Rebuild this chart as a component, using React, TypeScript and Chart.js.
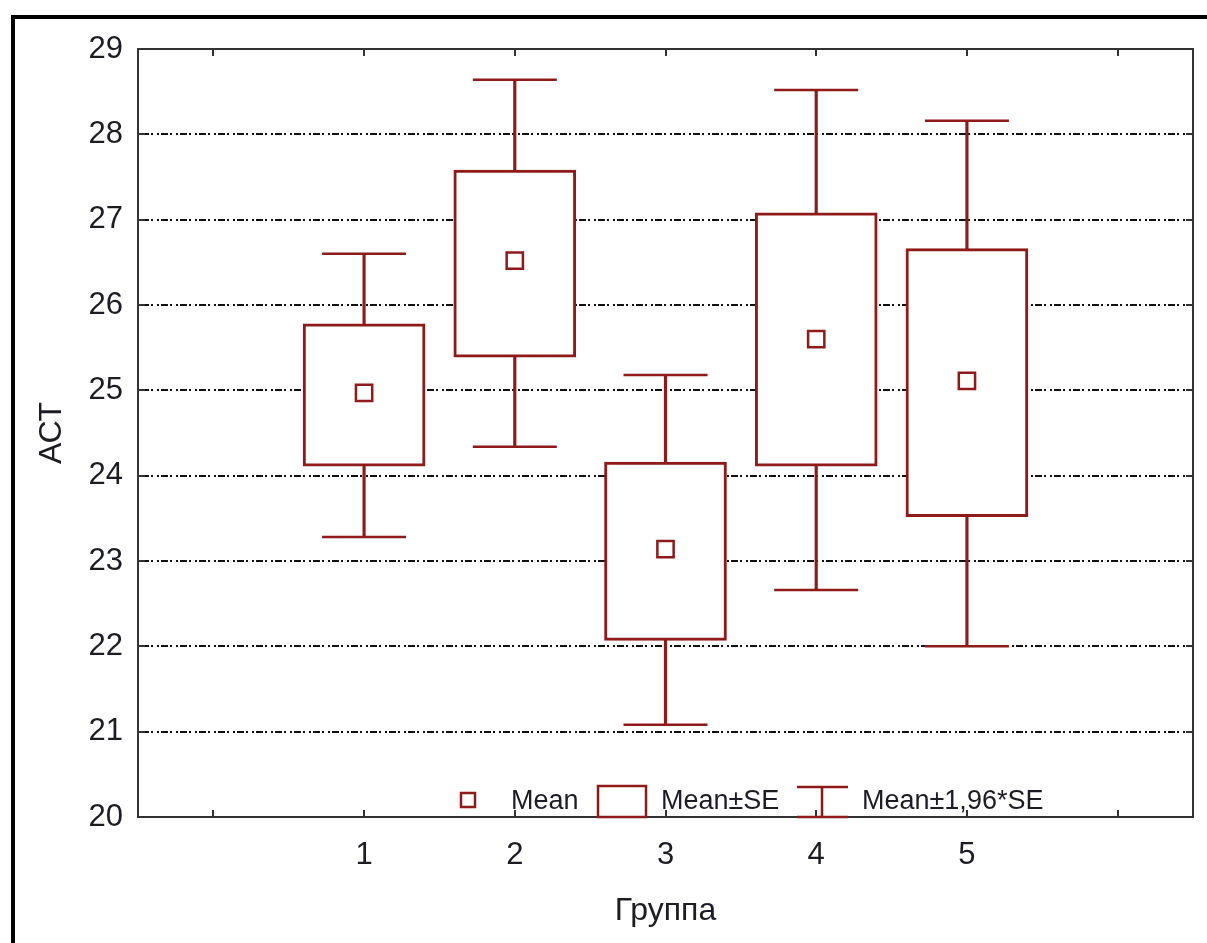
import React, { useEffect, useRef } from "react";
import { Chart, registerables } from "chart.js";

Chart.register(...registerables);

// Group numbers on the x axis
const groups = [1, 2, 3, 4, 5];
// Mean АСТ per group
const means = [24.97, 26.52, 23.14, 25.6, 25.11];
// Mean ± SE
const seLow = [24.11, 25.39, 22.07, 24.11, 23.52];
const seHigh = [25.78, 27.58, 24.16, 27.08, 26.66];
// Mean ± 1,96*SE
const ciLow = [23.28, 24.34, 21.08, 22.66, 22.0];
const ciHigh = [26.6, 28.64, 25.18, 28.52, 28.16];

const yTicks = [20, 21, 22, 23, 24, 25, 26, 27, 28, 29];
const xTicks = [0, 1, 2, 3, 4, 5, 6];

const RED = "#8e1a1a";
const INK = "#1c1c24";
const FONT = "'Liberation Sans', Arial, sans-serif";

const framePlugin = {
  id: "statFrame",
  beforeDraw(chart: any) {
    const ctx = chart.ctx;
    ctx.save();
    ctx.fillStyle = "#ffffff";
    ctx.fillRect(0, 0, chart.width, chart.height);
    // outer window frame
    ctx.fillStyle = "#000000";
    ctx.fillRect(11, 15, 4, chart.height);
    ctx.fillRect(11, 15, chart.width, 4);
    ctx.restore();
  },
  afterDraw(chart: any) {
    const ctx = chart.ctx;
    const { left, right, top, bottom } = chart.chartArea;
    const xs = chart.scales.x;
    const ys = chart.scales.y;
    ctx.save();
    ctx.strokeStyle = "#333333";
    ctx.lineWidth = 2;
    ctx.strokeRect(left, top, right - left, bottom - top);
    ctx.beginPath();
    const tl = 7;
    yTicks.forEach((v) => {
      const py = Math.round(ys.getPixelForValue(v));
      ctx.moveTo(left, py);
      ctx.lineTo(left + tl, py);
      ctx.moveTo(right, py);
      ctx.lineTo(right - tl, py);
    });
    xTicks.forEach((v) => {
      const px = Math.round(xs.getPixelForValue(v));
      ctx.moveTo(px, top);
      ctx.lineTo(px, top + tl);
      ctx.moveTo(px, bottom);
      ctx.lineTo(px, bottom - tl);
    });
    ctx.stroke();

    // legend inside the plot, along the bottom edge
    const base = bottom - 8;
    ctx.font = `27px ${FONT}`;
    ctx.fillStyle = INK;
    ctx.textBaseline = "alphabetic";
    ctx.textAlign = "left";
    ctx.strokeStyle = RED;
    ctx.lineWidth = 2.5;
    // Mean marker
    ctx.fillStyle = "#ffffff";
    ctx.fillRect(461, bottom - 24, 14, 14);
    ctx.strokeRect(461, bottom - 24, 14, 14);
    ctx.fillStyle = INK;
    ctx.fillText("Mean", 511, base);
    // Mean±SE box
    ctx.strokeRect(598, bottom - 31, 48, 31);
    ctx.fillText("Mean±SE", 661, base);
    // Mean±1,96*SE whisker
    ctx.beginPath();
    ctx.moveTo(797, bottom - 30);
    ctx.lineTo(848, bottom - 30);
    ctx.moveTo(822, bottom - 30);
    ctx.lineTo(822, bottom);
    ctx.moveTo(797, bottom);
    ctx.lineTo(848, bottom);
    ctx.stroke();
    ctx.fillText("Mean±1,96*SE", 862, base);
    ctx.restore();
  },
};

export default function App() {
  const canvasRef = useRef<HTMLCanvasElement | null>(null);

  useEffect(() => {
    const canvas = canvasRef.current;
    if (!canvas) return;
    const chart = new Chart(canvas, {
      type: "bar",
      data: {
        datasets: [
          {
            type: "scatter",
            label: "Mean",
            data: groups.map((g, i) => ({ x: g, y: means[i] })),
            pointStyle: "rect",
            pointRadius: 11.5,
            pointBorderWidth: 2.5,
            pointBorderColor: RED,
            pointBackgroundColor: "#ffffff",
            order: 0,
          } as any,
          {
            type: "bar",
            label: "Mean±SE",
            data: groups.map((g, i) => ({ x: g, y: [seLow[i], seHigh[i]] })),
            backgroundColor: "#ffffff",
            borderColor: RED,
            borderWidth: 3,
            borderSkipped: false,
            barThickness: 122,
            grouped: false,
            order: 1,
          } as any,
          {
            type: "scatter",
            label: "caps",
            data: groups.flatMap((g, i) => [
              { x: g, y: ciLow[i] },
              { x: g, y: ciHigh[i] },
            ]),
            pointStyle: "line",
            pointRadius: 42,
            pointBorderWidth: 2.5,
            pointBorderColor: RED,
            order: 2,
          } as any,
          {
            type: "bar",
            label: "Mean±1,96*SE",
            data: groups.map((g, i) => ({ x: g, y: [ciLow[i], ciHigh[i]] })),
            backgroundColor: RED,
            borderWidth: 0,
            barThickness: 2.5,
            grouped: false,
            order: 3,
          } as any,
        ],
      },
      options: {
        animation: false,
        responsive: false,
        events: [],
        layout: { autoPadding: false, padding: { top: 49, right: 14, left: 0, bottom: 0 } },
        plugins: { legend: { display: false }, tooltip: { enabled: false } },
        scales: {
          x: {
            type: "linear",
            offset: false,
            min: -0.5,
            max: 6.5,
            afterBuildTicks: (s: any) => {
              s.ticks = xTicks.map((v) => ({ value: v }));
            },
            afterFit: (s: any) => {
              s.height = 126;
            },
            grid: { display: false, offset: false },
            border: { display: false },
            ticks: {
              autoSkip: false,
              maxRotation: 0,
              padding: 12,
              color: INK,
              font: { family: FONT, size: 31 },
              callback: (v: any) => (v >= 1 && v <= 5 ? String(v) : ""),
            },
            title: {
              display: true,
              text: "Группа",
              color: INK,
              font: { family: FONT, size: 32 },
              padding: { top: 0, bottom: 13 },
            },
          },
          y: {
            type: "linear",
            min: 20,
            max: 29,
            afterBuildTicks: (s: any) => {
              s.ticks = yTicks.map((v) => ({ value: v }));
            },
            afterFit: (s: any) => {
              s.width = 138;
            },
            grid: {
              drawTicks: false,
              lineWidth: 2,
              color: (c: any) =>
                c.tick && c.tick.value > 20 && c.tick.value < 29 ? "#111111" : "rgba(0,0,0,0)",
            },
            border: { display: false, dash: [2, 2, 7, 2, 2, 4] },
            ticks: {
              padding: 15,
              color: INK,
              font: { family: FONT, size: 31 },
            },
            title: {
              display: true,
              text: "АСТ",
              color: INK,
              font: { family: FONT, size: 32 },
              padding: { top: 33, bottom: 0 },
            },
          },
        },
      },
      plugins: [framePlugin],
    });
    return () => chart.destroy();
  }, []);

  return (
    <div style={{ position: "fixed", left: 0, top: 0, width: 1207, height: 943, background: "#fff" }}>
      <canvas ref={canvasRef} width={1207} height={943} style={{ width: 1207, height: 943, display: "block" }} />
    </div>
  );
}
